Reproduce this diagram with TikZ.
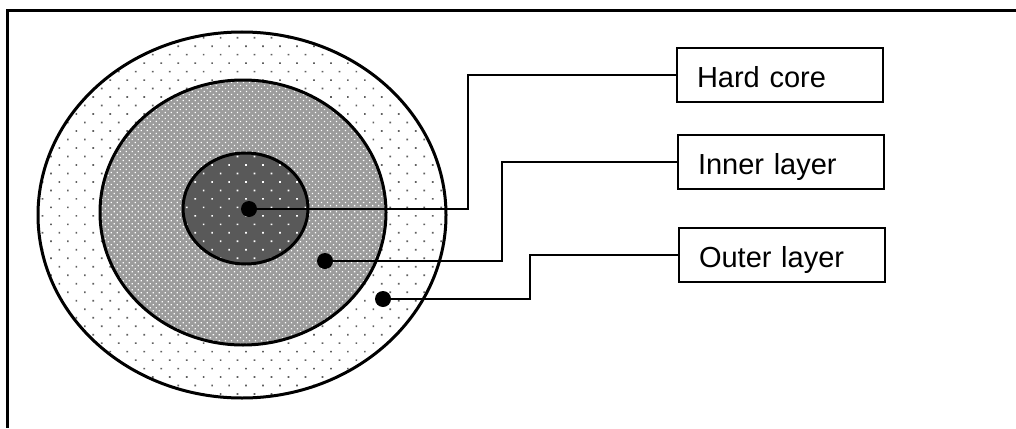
\documentclass[tikz,border=0pt]{standalone}
\usepackage{fontspec}
\setmainfont{Liberation Sans}
\usetikzlibrary{patterns.meta}
\definecolor{coregray}{HTML}{595959}
\definecolor{midgray}{HTML}{9C9C9C}
\definecolor{dotgray}{HTML}{606060}
\begin{document}
\begin{tikzpicture}[x=1pt,y=-1pt,
  ring/.style={line width=3pt},
  leader/.style={line width=2pt},
  blob/.style={circle,fill=black,inner sep=0pt,minimum size=16pt},
  labelbox/.style={draw,line width=1.4pt,rectangle,text width=166pt,inner xsep=20pt,inner ysep=0pt,
     minimum height=54pt,align=left,text height=26pt,text depth=2pt,
     font=\fontsize{29}{34}\selectfont}]
\useasboundingbox (0,0) rectangle (1016,428);
% frame
\draw[line width=3pt] (1016,10.5) -- (7,10.5) -- (7,428);
% outer layer
\fill[white] (242,215) ellipse [x radius=204, y radius=183];
\fill[pattern={Dots[radius=1.2pt,distance=12pt,angle=45]},pattern color=dotgray] (242,215) ellipse [x radius=204, y radius=183];
\draw[ring] (242,215) ellipse [x radius=204, y radius=183];
% inner layer
\fill[midgray] (243,212.5) ellipse [x radius=143, y radius=132.5];
\fill[pattern={Dots[radius=0.9pt,distance=4.25pt,angle=45]},pattern color=white] (243,212.5) ellipse [x radius=143, y radius=132.5];
\draw[ring] (243,212.5) ellipse [x radius=143, y radius=132.5];
% hard core
\fill[coregray] (245.5,208.5) ellipse [x radius=62.5, y radius=55.5];
\fill[pattern={Dots[radius=1.2pt,distance=12pt,angle=45]},pattern color=white] (245.5,208.5) ellipse [x radius=62.5, y radius=55.5];
\draw[ring] (245.5,208.5) ellipse [x radius=62.5, y radius=55.5];
% dots
\node[blob] (d1) at (249,209) {};
\node[blob] (d2) at (325,261) {};
\node[blob] (d3) at (383,299) {};
% boxes
\node[labelbox] (hc) at (780,75) {Hard core};
\node[labelbox] (il) at (781,162) {Inner layer};
\node[labelbox] (ol) at (782,255) {Outer layer};
% connectors
\coordinate (k1) at (468,209);
\coordinate (k2) at (502,261);
\coordinate (k3) at (530,299);
\draw[leader] (d1.center) -- (k1) |- (hc.west);
\draw[leader] (d2.center) -- (k2) |- (il.west);
\draw[leader] (d3.center) -- (k3) |- (ol.west);
\end{tikzpicture}
\end{document}
